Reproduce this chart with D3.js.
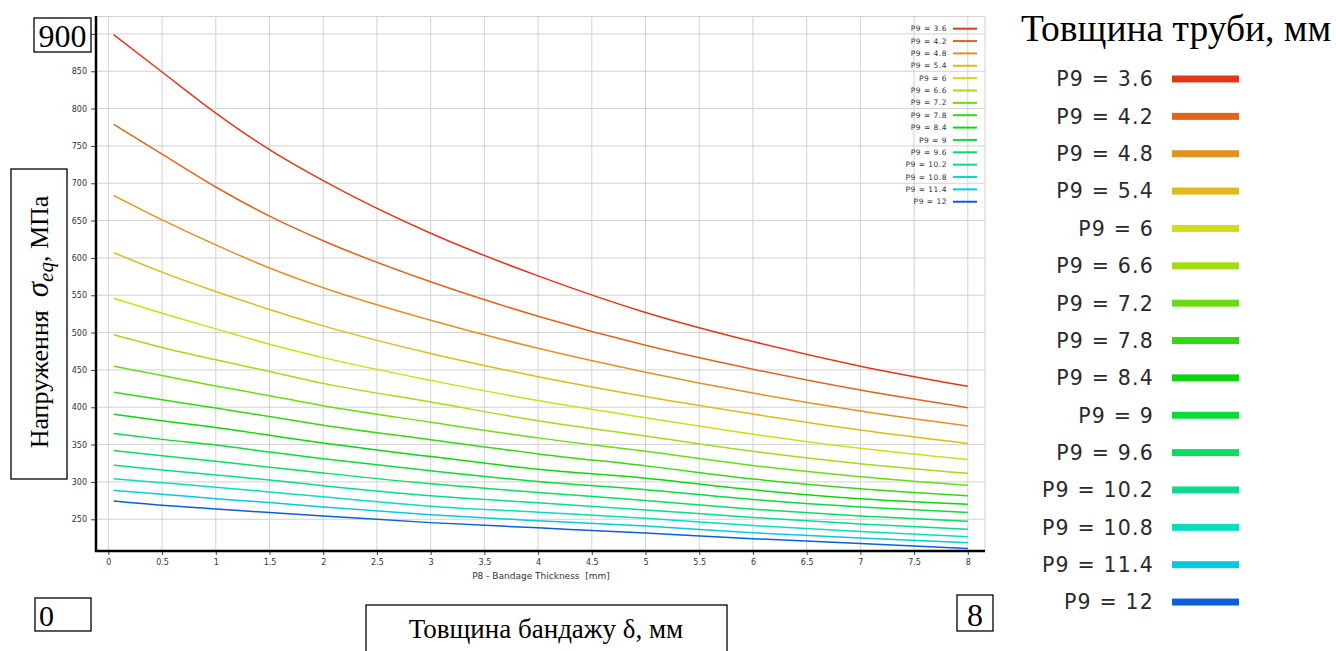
<!DOCTYPE html>
<html>
<head>
<meta charset="utf-8">
<script src="https://cdn.jsdelivr.net/npm/d3@7"></script>
<style>
  body { margin: 0; background: #fff; }
  svg { display: block; }
</style>
</head>
<body>
<svg id="chart" width="1336" height="651"></svg>
<script>
// Bandage thickness P8 [mm] where the curves were read
const p8 = [0.05, 0.5, 1, 1.5, 2, 3, 4, 5, 6, 7, 8];

// Pipe thickness P9 [mm] and the colour of each curve
const p9 = [3.6, 4.2, 4.8, 5.4, 6, 6.6, 7.2, 7.8, 8.4, 9, 9.6, 10.2, 10.8, 11.4, 12];
const colors = ["#e1371a", "#e0641a", "#e09222", "#e0ba18", "#d2dc14", "#a2dc16", "#6cdc12",
                "#34d814", "#0ad80c", "#0adc3c", "#0adc64", "#0adc8e", "#0adcbe", "#0ac8dc", "#0a5fdc"];

// Equivalent stress [MPa], one array per P9 value
const s36  = [899, 849, 794, 745, 703.5, 633, 576, 527, 488, 455, 428];
const s42  = [779, 739, 695, 656, 623, 568, 522, 483, 451, 423, 399.5];
const s48  = [683.5, 651, 617.5, 586.5, 560, 516.5, 479, 447, 419, 395, 375];
const s54  = [607, 581, 555, 531, 509, 472, 441, 414.5, 391, 369.5, 351.5];
const s60  = [546, 526, 505, 484.5, 466.5, 436, 409, 386, 364, 345, 330];
const s66  = [497, 480, 463.5, 448, 432, 407, 382, 361.5, 341, 324.5, 311.5];
const s72  = [455, 442.5, 428.5, 415.5, 402, 380, 359, 341, 322, 307, 295.5];
const s78  = [420, 410, 399, 387.5, 376, 356.5, 337.5, 321.5, 304, 291, 281.5];
const s84  = [390.5, 382, 373, 362.5, 352, 334, 317, 305, 289.5, 277.5, 270];
const s90  = [365, 357, 349.5, 340, 331, 315, 300.5, 289.5, 276.5, 266.5, 259];
const s96  = [342, 335.2, 327.7, 319.8, 312, 297.5, 286, 275, 263.5, 254.5, 247.5];
const s102 = [322.3, 316, 309.3, 302.6, 295, 281.5, 272, 262.5, 252.5, 243.5, 236.5];
const s108 = [304.4, 299, 293, 286.6, 280, 267.5, 259.5, 251.5, 241.5, 233.5, 226.5];
const s114 = [288.5, 283.5, 277.6, 272.3, 266.5, 256, 248, 241, 232, 225, 218.5];
const s120 = [274.5, 268.7, 263.8, 258.9, 254.5, 245.5, 238.5, 231.5, 224, 217.5, 211];

const stress = [s36, s42, s48, s54, s60, s66, s72, s78, s84, s90, s96, s102, s108, s114, s120];

// Tick values
const xTicks = d3.range(0, 8.01, 0.5);
const yTicks = d3.range(250, 901, 50);

const svg = d3.select("#chart");
const sans = "'DejaVu Sans', Verdana, sans-serif";
const serif = "'Liberation Serif', 'Times New Roman', serif";

// plot box
const plotL = 96, plotR = 985, plotT = 16, plotB = 551;

const x = d3.scaleLinear().domain([-0.115, 8.16]).range([plotL, plotR]);
const y = d3.scaleLinear().domain([207.5, 924]).range([plotB, plotT]);

// grid
const grid = svg.append("g").attr("stroke", "#d2d2d2").attr("stroke-width", 1);
xTicks.forEach(t => {
    grid.append("line").attr("x1", x(t)).attr("x2", x(t)).attr("y1", plotT).attr("y2", plotB);
});
yTicks.forEach(t => {
    grid.append("line").attr("x1", plotL).attr("x2", plotR).attr("y1", y(t)).attr("y2", y(t));
});
grid.append("line").attr("x1", plotL).attr("x2", plotR).attr("y1", plotT + 0.5).attr("y2", plotT + 0.5);
grid.append("line").attr("x1", plotR).attr("x2", plotR).attr("y1", plotT).attr("y2", plotB);

// curves
const line = d3.line()
    .x((d, i) => x(p8[i]))
    .y(d => y(d))
    .curve(d3.curveMonotoneX);

svg.append("g")
    .selectAll("path")
    .data(stress)
    .enter()
    .append("path")
    .attr("fill", "none")
    .attr("stroke", (d, i) => colors[i])
    .attr("stroke-width", 1.5)
    .attr("d", line);

// axes
svg.append("g")
    .attr("transform", `translate(0,${plotB})`)
    .call(d3.axisBottom(x).tickValues(xTicks).tickSize(4).tickSizeOuter(0).tickFormat(d3.format("")))
    .call(g => g.select(".domain").remove())
    .call(g => g.selectAll(".tick line").attr("stroke", "#444"))
    .call(g => g.selectAll(".tick text").attr("fill", "#333").attr("dy", "0.9em")
        .style("font", `8px ${sans}`));

// the 900 label is replaced by the boxed one
svg.append("g")
    .attr("transform", `translate(${plotL},0)`)
    .call(d3.axisLeft(y).tickValues(yTicks).tickSize(5).tickSizeOuter(0)
        .tickFormat(d => d === 900 ? "" : d))
    .call(g => g.select(".domain").remove())
    .call(g => g.selectAll(".tick line").attr("stroke", "#444"))
    .call(g => g.selectAll(".tick text").attr("fill", "#333").attr("x", -9)
        .style("font", `8px ${sans}`));

// thick black axis lines
svg.append("line").attr("x1", plotL).attr("x2", plotL).attr("y1", plotT).attr("y2", plotB + 1)
    .attr("stroke", "black").attr("stroke-width", 2.5);
svg.append("line").attr("x1", plotL - 1).attr("x2", plotR).attr("y1", plotB).attr("y2", plotB)
    .attr("stroke", "black").attr("stroke-width", 2.5);

svg.append("text")
    .attr("x", 541).attr("y", 579)
    .attr("text-anchor", "middle")
    .attr("fill", "#333")
    .style("font", `9px ${sans}`)
    .text("P8 - Bandage Thickness\u00a0\u00a0[mm]");

// small legend inside the plot
const smallLeg = svg.append("g");
p9.forEach((v, i) => {
    const yy = 28.7 + i * 12.36;
    smallLeg.append("text")
        .attr("x", 947).attr("y", yy).attr("dy", "0.35em")
        .attr("text-anchor", "end").attr("fill", "#333")
        .style("font", `7.5px ${sans}`)
        .style("letter-spacing", "0.5px")
        .text(`P9 = ${v}`);
    smallLeg.append("line")
        .attr("x1", 953).attr("x2", 977).attr("y1", yy).attr("y2", yy)
        .attr("stroke", colors[i]).attr("stroke-width", 2);
});

// big legend on the right
svg.append("text")
    .attr("x", 1021).attr("y", 41)
    .attr("fill", "black")
    .style("font", `37.5px ${serif}`)
    .text("Товщина труби, мм");

const bigLeg = svg.append("g");
p9.forEach((v, i) => {
    const yy = 79 + i * 37.36;
    bigLeg.append("text")
        .attr("x", 1154).attr("y", yy).attr("dy", "0.36em")
        .attr("text-anchor", "end").attr("fill", "#2a2a2a")
        .style("font", `20.5px ${sans}`)
        .style("letter-spacing", "1.2px")
        .text(`P9 = ${v}`);
    bigLeg.append("rect")
        .attr("x", 1172).attr("y", yy - 3.5).attr("width", 67).attr("height", 7)
        .attr("fill", colors[i]);
});

// boxed labels added on top of the chart
function box(x0, y0, w, h) {
    svg.append("rect")
        .attr("x", x0).attr("y", y0).attr("width", w).attr("height", h)
        .attr("fill", "white").attr("stroke", "black").attr("stroke-width", 1.3);
}

box(34, 18, 57, 34);
svg.append("text").attr("x", 62.5).attr("y", 47).attr("text-anchor", "middle")
    .style("font", `32px ${serif}`).text("900");

box(35, 598, 56, 33);
svg.append("text").attr("x", 39).attr("y", 626)
    .style("font", `30px ${serif}`).text("0");

box(957, 595, 36, 36);
svg.append("text").attr("x", 975).attr("y", 626).attr("text-anchor", "middle")
    .style("font", `32px ${serif}`).text("8");

box(366, 605, 361, 50);
svg.append("text").attr("x", 546).attr("y", 638).attr("text-anchor", "middle")
    .style("font", `27px ${serif}`).text("Товщина бандажу δ, мм");

box(11, 169, 56, 310);
const yl = svg.append("text")
    .attr("transform", "translate(48,322) rotate(-90)")
    .attr("text-anchor", "middle")
    .style("font", `26px ${serif}`);
yl.append("tspan").text("Напруження\u00a0\u00a0");
yl.append("tspan").style("font-style", "italic").style("font-size", "31px").text("σ");
yl.append("tspan").style("font-style", "italic").style("font-size", "21px").attr("dy", 5).text("eq");
yl.append("tspan").attr("dy", -5).text(", МПа");
</script>
</body>
</html>
